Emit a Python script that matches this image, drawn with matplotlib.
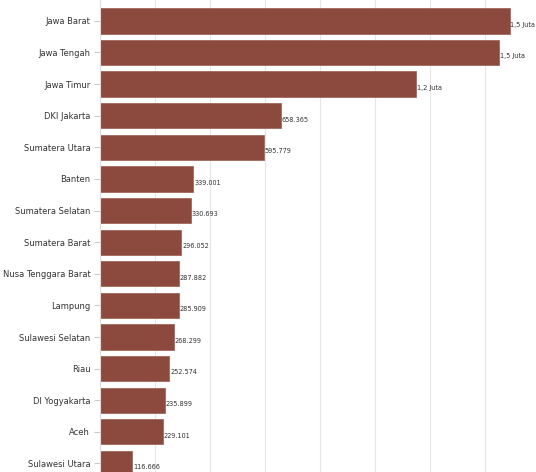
import numpy as np
import matplotlib.pyplot as plt

# provinces and values
provinces = ['Jawa Barat', 'Jawa Tengah', 'Jawa Timur', 'DKI Jakarta', 'Sumatera Utara',
             'Banten', 'Sumatera Selatan', 'Sumatera Barat', 'Nusa Tenggara Barat', 'Lampung',
             'Sulawesi Selatan', 'Riau', 'DI Yogyakarta', 'Aceh', 'Sulawesi Utara']
values = [1490000, 1451000, 1149000, 658365, 595779,
          339001, 330693, 296052, 287882, 285909,
          268299, 252574, 235899, 229101, 116666]
value_labels = ['1,5 Juta', '1,5 Juta', '1,2 Juta', '658.365', '595.779',
                '339.001', '330.693', '296.052', '287.882', '285.909',
                '268.299', '252.574', '235.899', '229.101', '116.666']

plt.rcParams['font.family'] = ['DejaVu Sans']
plt.rcParams['font.stretch'] = 'condensed'

fig = plt.figure(figsize=(5.36, 4.72), dpi=100)
# axes runs off the bottom/right of the picture, like the cropped original
ax = fig.add_axes([100 / 536, 0, 436 / 536, 1])

y = np.arange(len(provinces))
ax.barh(y, values, height=0.8, color='#8c4a3e', edgecolor='#a0685c', linewidth=0.6, zorder=2)

for yi, v, lab in zip(y, values, value_labels):
    ax.text(v + 3000, yi + 0.12, lab, va='center', ha='left', fontsize=5.2, color='#333333')

ax.set_xlim(0, 1.586e6)
ax.set_ylim(14.27, -0.66)
ax.set_yticks(y)
ax.set_yticklabels(provinces, fontsize=6.7, color='#333333')
ax.set_xticks(np.arange(0, 1.6e6, 2e5))
ax.tick_params(axis='x', length=0, labelbottom=False)
ax.tick_params(axis='y', length=4, color='#cccccc', pad=3)
ax.grid(axis='x', color='#e6e6e6', linewidth=0.8, zorder=0)
for side in ['top', 'right', 'bottom']:
    ax.spines[side].set_visible(False)
ax.spines['left'].set_color('#dddddd')

fig.savefig('out.png', dpi=100)
